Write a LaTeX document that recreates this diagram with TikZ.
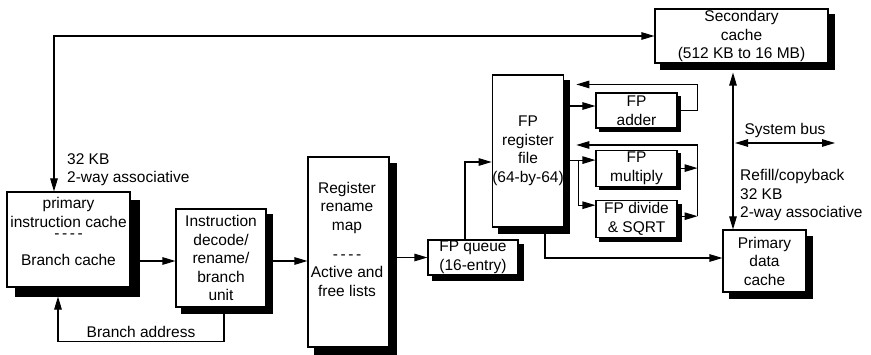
\documentclass[tikz,border=0pt]{standalone}
\usepackage{fontspec}
\setmainfont{Liberation Sans}
\usetikzlibrary{arrows.meta, positioning}

\begin{document}
\begin{tikzpicture}[
    x=1pt, y=1pt,
    font=\fontsize{15.5}{18.5}\selectfont,
    unit/.style={
      rectangle, draw=black, fill=white, line width=1.1pt,
      inner sep=0pt, align=center
    },
    shadowed/.style={preaction={fill=black, draw=black,
      transform canvas={xshift=#1, yshift=-#1}}},
    txt/.style={inner sep=0pt, align=center},
    note/.style={inner sep=0pt, align=left},
    arr/.style={-{Triangle[length=13pt, width=7.5pt]}, line width=1.1pt},
    dbl/.style={{Triangle[length=13pt, width=7.5pt]}-{Triangle[length=13pt, width=7.5pt]}, line width=1.1pt},
  ]
    \useasboundingbox (0,0) rectangle (871,354);

    \node[unit, shadowed=6pt, minimum width=173pt, minimum height=54pt] (secondary) at (741.5,318)
      {Secondary\\cache\\(512 KB to 16 MB)};
    \node[unit, shadowed=9pt, minimum width=123pt, minimum height=95pt] (icache) at (68.5,114.5) {};
    \node[unit, shadowed=6pt, minimum width=90pt, minimum height=98pt] (decode) at (221,96)
      {Instruction\\decode/\\rename/\\branch\\unit};
    \node[unit, shadowed=7pt, minimum width=81pt, minimum height=190pt] (rename) at (348.5,102) {};
    \node[unit, shadowed=5pt, minimum width=90pt, minimum height=35pt] (fpqueue) at (473,96.5)
      {FP queue\\(16-entry)};
    \node[unit, shadowed=6pt, minimum width=70pt, minimum height=152pt] (fpregs) at (528,203)
      {FP\\register\\file\\(64-by-64)};
    \node[unit, shadowed=3.5pt, minimum width=81pt, minimum height=35pt] (fpadd) at (636.5,243.5)
      {FP\\adder};
    \node[unit, shadowed=3.5pt, minimum width=81pt, minimum height=36pt, below=21pt of fpadd] (fpmul)
      {FP\\multiply};
    \node[unit, shadowed=4pt, minimum width=81pt, minimum height=37pt, below=13pt of fpmul] (fpdiv)
      {FP divide\\\& SQRT};
    \node[unit, shadowed=6.5pt, minimum width=83pt, minimum height=62pt] (dcache) at (764.5,93)
      {Primary\\data\\cache};

    % texts of the two split boxes
    \node[txt, anchor=north] (icachetxt) at (68.5,156.8)
      {primary\\instruction cache\\[-7.2pt]-\,-\,-\,-\\[8.5pt]Branch cache};
    \node[txt, anchor=north] (renametxt) at (347,172.4)
      {Register\\rename\\map\\[10.5pt]-\,-\,-\,-\\Active and\\free lists};

    % Secondary cache to primary caches
    \draw[dbl] (secondary.west) -| ([xshift=-14.5pt]icache.north);
    \coordinate (l2port) at ([xshift=-8.5pt, yshift=-9pt]secondary.south);
    \draw[dbl] (l2port) -- (l2port |- dcache.north);

    % Instruction flow
    \coordinate (decin) at ([yshift=-3pt]decode.west);
    \coordinate (renin) at ([yshift=-9pt]rename.west);
    \draw[arr] (icache.east |- decin) -- (decin);
    \draw[arr] (decode.east |- renin) -- (renin);
    \draw[arr] (rename.east |- fpqueue.west) -- (fpqueue.west);
    \draw[arr] ([xshift=3pt]decode.south) -- ++(0,-34)
      -| node[above, pos=0.25, inner sep=3pt] (branchlbl) {Branch address}
      ([xshift=-10.5pt, yshift=-9pt]icache.south);

    % FP side
    \draw[arr] ([xshift=-8pt]fpqueue.north) |- ([yshift=-11pt]fpregs.west);
    \draw[arr] ([xshift=17pt]fpregs.south) |- ([yshift=3pt]dcache.west);
    \coordinate (addin) at ([yshift=4.5pt]fpadd.west);
    \coordinate (mulin) at ([yshift=8pt]fpmul.west);
    \draw[arr] (fpregs.east |- addin) -- (addin);
    \draw[arr] (fpregs.east |- mulin) -- (mulin);
    \draw[arr] (fpregs.east |- mulin) ++(14,0) |- ([yshift=13.5pt]fpdiv.west);

    % Results back to the register file
    \draw[arr] (fpadd.east) -- ++(20,0) |- ([xshift=12pt, yshift=-10pt]fpregs.north east);
    \draw[arr] ([yshift=2.5pt]fpdiv.east) -- ++(20,0) coordinate (divout);
    \draw[arr] (divout) |- ([xshift=12pt, yshift=6pt]fpregs.east);
    \draw[arr] (fpmul.east) -- (fpmul.east -| divout);

    % System bus
    \coordinate (busW) at (735,211);
    \coordinate (busE) at (835,211);
    \draw[dbl] (busW) -- node[above, inner sep=5pt] (buslbl) {System bus} (busE);

    % Annotations
    \node[note, anchor=west] (l1note) at (67,184.5) {32 KB\\2-way associative};
    \node[note, anchor=west] (dcnote) at (740,159) {Refill/copyback\\32 KB\\2-way associative};
\end{tikzpicture}
\end{document}
